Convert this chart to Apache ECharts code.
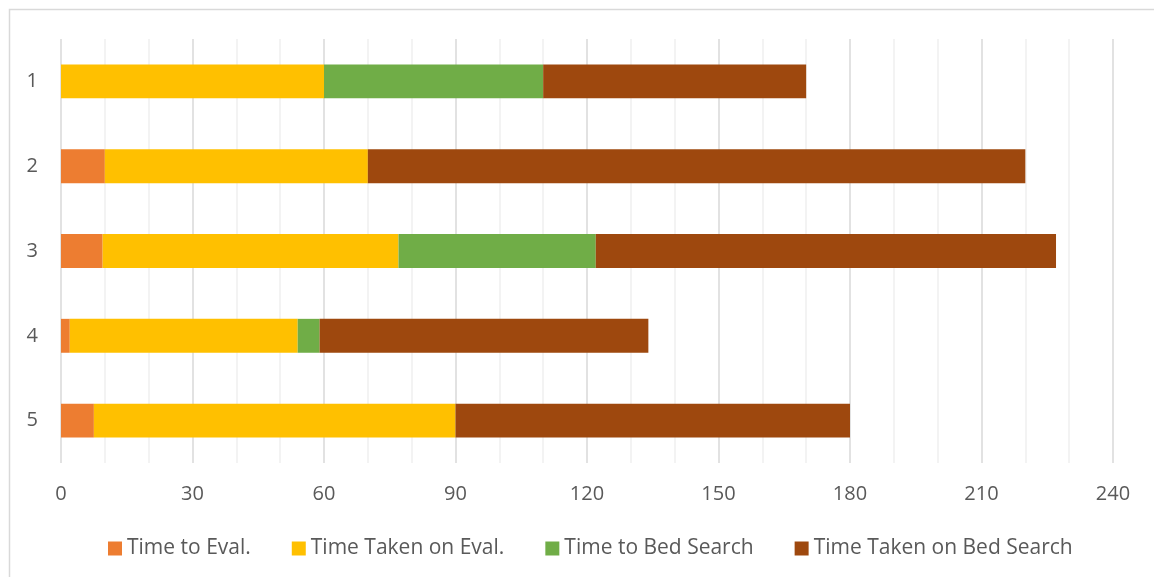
<!DOCTYPE html>
<html><head><meta charset="utf-8">
<script src="https://cdn.jsdelivr.net/npm/echarts@6/dist/echarts.min.js"></script>
<style>html,body{margin:0;padding:0;background:#fff}#c{width:1154px;height:577px}</style>
</head><body><div id="c"></div>
<script>
const categories = ['1', '2', '3', '4', '5'];
const timeToEval = [0, 10, 9.5, 2, 7.5];
const timeTakenOnEval = [60, 60, 67.5, 52, 82.5];
const timeToBedSearch = [50, 0, 45, 5, 0];
const timeTakenOnBedSearch = [60, 150, 105, 75, 90];
const seriesNames = ['Time to Eval.', 'Time Taken on Eval.', 'Time to Bed Search', 'Time Taken on Bed Search'];
const colors = ['#ED7D31', '#FFC000', '#70AD47', '#9E480E'];
const xTicks = [0, 30, 60, 90, 120, 150, 180, 210, 240];

const chart = echarts.init(document.getElementById('c'));
const font = '"Open Sans", "Noto Sans", sans-serif';
const dataArr = [timeToEval, timeTakenOnEval, timeToBedSearch, timeTakenOnBedSearch];
chart.setOption({
  animation: false,
  color: colors,
  graphic: [{type: 'rect', shape: {x: 9.5, y: 9.5, width: 1160, height: 600}, style: {fill: 'none', stroke: '#d9d9d9', lineWidth: 1.5}, silent: true}],
  grid: {left: 61, right: 41, top: 39, bottom: 114, containLabel: false},
  legend: {
    bottom: 13, left: 103, itemWidth: 14, itemHeight: 14, itemGap: 41,
    icon: 'rect',
    textStyle: {color: '#595959', fontSize: 21, fontFamily: font, padding: [0, 0, 0, 0]},
    data: seriesNames
  },
  xAxis: {
    type: 'value', min: xTicks[0], max: xTicks[xTicks.length - 1], interval: 30,
    axisLine: {show: false}, axisTick: {show: false},
    axisLabel: {color: '#595959', fontSize: 20, fontFamily: font, margin: 21},
    splitLine: {show: true, lineStyle: {color: '#d9d9d9', width: 1.5}},
    minorTick: {show: false, splitNumber: 3},
    minorSplitLine: {show: true, lineStyle: {color: '#f0f0f0', width: 1.5}}
  },
  yAxis: {
    type: 'category', data: categories, inverse: true,
    axisLine: {show: false}, axisTick: {show: false},
    axisLabel: {color: '#595959', fontSize: 20, fontFamily: font, margin: 23}
  },
  series: seriesNames.map((n, i) => ({
    name: n, type: 'bar', stack: 'total', barWidth: '40%',
    data: dataArr[i], itemStyle: {color: colors[i]}
  }))
});
</script></body></html>
